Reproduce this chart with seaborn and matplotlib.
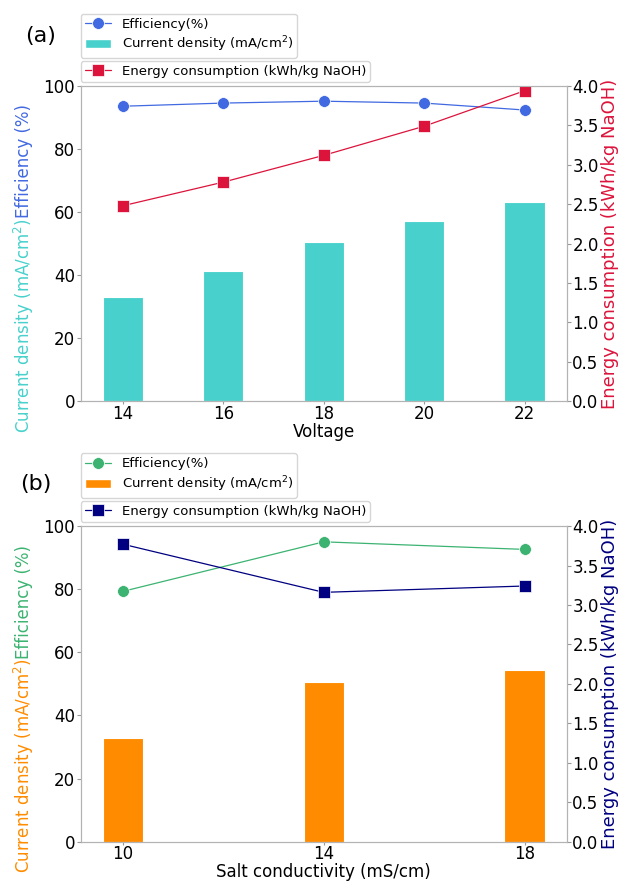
import numpy as np
import matplotlib
matplotlib.use("Agg")
import matplotlib.pyplot as plt
import seaborn as sns
from matplotlib.patches import Patch

# panel (a) data
voltage = [14, 16, 18, 20, 22]
eff_a = [93.6, 94.6, 95.2, 94.6, 92.4]
cd_a = [33.1, 41.3, 50.5, 57.1, 63.1]
energy_a = [2.48, 2.78, 3.12, 3.49, 3.94]

# panel (b) data
salt = [10, 14, 18]
eff_b = [79.3, 95.0, 92.6]
cd_b = [33.0, 50.5, 54.3]
energy_b = [3.77, 3.16, 3.24]

sns.set_style("white")
plt.rcParams['font.family'] = ['DejaVu Sans']
plt.rcParams['text.color'] = 'black'
plt.rcParams['axes.labelcolor'] = 'black'
plt.rcParams['xtick.color'] = 'black'
plt.rcParams['ytick.color'] = 'black'

fig = plt.figure(figsize=(6.22, 8.81), dpi=100)
ax_a = fig.add_axes([0.1297, 0.5448, 0.7814, 0.3575])
ax_b = fig.add_axes([0.1297, 0.0446, 0.7814, 0.3583])


def draw_panel(ax, x, eff, cd, energy, c_eff, c_cd, c_en, xlabel, tag):
    ax.bar(x, cd, width=0.8, color=c_cd, edgecolor='white', linewidth=0.8, zorder=1)
    sns.lineplot(x=x, y=eff, ax=ax, color=c_eff, marker='o', markersize=8.5,
                 linewidth=0.9, markeredgecolor='white', markeredgewidth=0.5, zorder=3)
    ax.set_ylim(0, 100)
    ax.set_yticks([0, 20, 40, 60, 80, 100])
    ax.set_xticks(x)
    ax.set_xlabel(xlabel, fontsize=12, labelpad=0)
    ax.set_ylabel("")
    ax.tick_params(axis='y', labelsize=12, length=3, color='0.6', left=True, pad=1)
    ax.tick_params(axis='x', labelsize=12, length=2.5, color='0.6', bottom=True, pad=0)

    ax2 = ax.twinx()
    sns.lineplot(x=x, y=energy, ax=ax2, color=c_en, marker='s', markersize=8.5,
                 linewidth=0.9, markeredgecolor='white', markeredgewidth=0.5)
    ax2.set_ylim(0, 4)
    ax2.set_yticks(np.arange(0, 4.01, 0.5))
    ax2.set_ylabel("Energy consumption (kWh/kg NaOH)", color=c_en, fontsize=13, labelpad=2)
    ax2.tick_params(labelsize=12, length=3, color='0.6', right=True, pad=1)
    for a in (ax, ax2):
        for s in a.spines.values():
            s.set_color('0.7')

    # two-colour left label
    ax.text(-0.117, 0.58, "Current density (mA/cm$^2$)", transform=ax.transAxes,
            rotation=90, rotation_mode='anchor', ha='right', va='center',
            color=c_cd, fontsize=12)
    ax.text(-0.117, 0.58, "Efficiency (%)", transform=ax.transAxes,
            rotation=90, rotation_mode='anchor', ha='left', va='center',
            color=c_eff, fontsize=12)

    h1 = [plt.Line2D([], [], color=c_eff, marker='o', markersize=8.5, lw=0.9,
                     markeredgecolor='white', markeredgewidth=0.5),
          Patch(facecolor=c_cd)]
    ax.legend(h1, ["Efficiency(%)", "Current density (mA/cm$^2$)"],
              loc='lower left', bbox_to_anchor=(0, 1.089), borderaxespad=0,
              fontsize=9.5, labelspacing=0.3, borderpad=0.3, frameon=True)
    h2 = [plt.Line2D([], [], color=c_en, marker='s', markersize=8.5, lw=0.9,
                     markeredgecolor='white', markeredgewidth=0.5)]
    ax2.legend(h2, ["Energy consumption (kWh/kg NaOH)"], loc='lower left',
               bbox_to_anchor=(0, 1.013), borderaxespad=0, fontsize=9.5,
               borderpad=0.3, frameon=True)

    fig.text(tag[1] / 622, 1 - tag[2] / 881, tag[0], fontsize=16, ha='center', va='center')


draw_panel(ax_a, voltage, eff_a, cd_a, energy_a, 'royalblue', 'mediumturquoise',
           'crimson', "Voltage", ("(a)", 41, 36))
draw_panel(ax_b, salt, eff_b, cd_b, energy_b, 'mediumseagreen', 'darkorange',
           'navy', "Salt conductivity (mS/cm)", ("(b)", 36, 484))

fig.savefig("out.png", dpi=100)
